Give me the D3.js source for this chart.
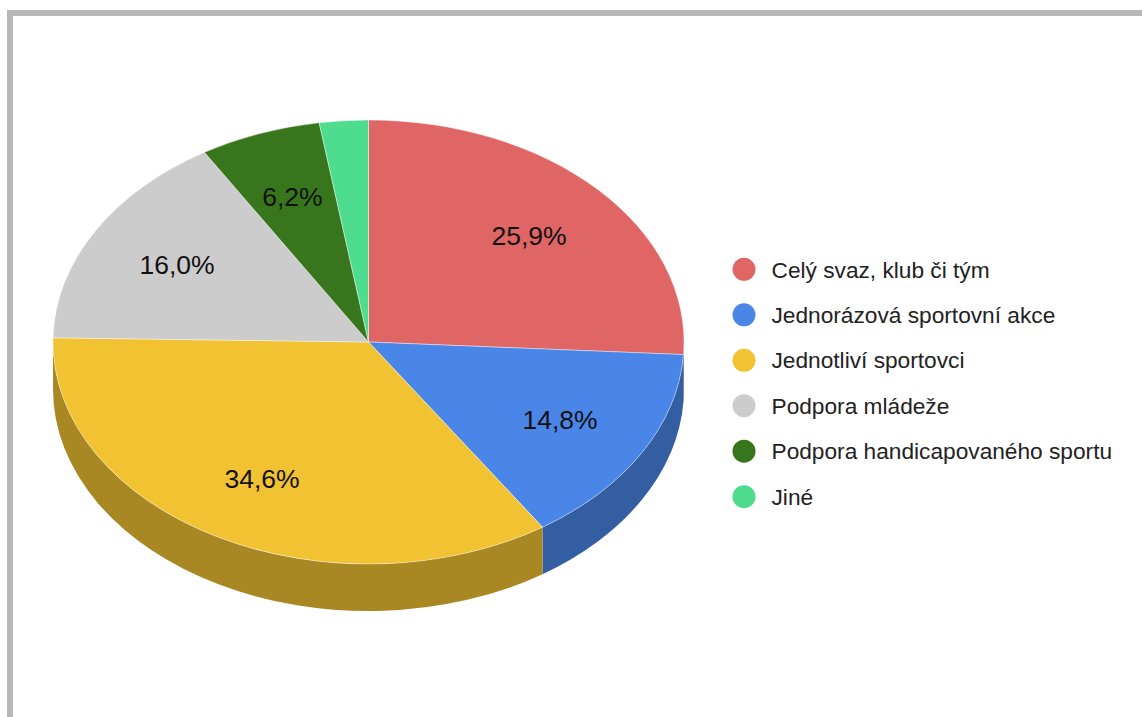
<!DOCTYPE html>
<html>
<head>
<meta charset="utf-8">
<script src="https://cdn.jsdelivr.net/npm/d3@7"></script>
<style>
  html, body { margin: 0; padding: 0; background: #fff; }
  svg { display: block; }
</style>
</head>
<body>
<svg id="chart" width="1142" height="717"></svg>
<script>
// Categories and their shares (percent)
const categories = [
  "Celý svaz, klub či tým",
  "Jednorázová sportovní akce",
  "Jednotliví sportovci",
  "Podpora mládeže",
  "Podpora handicapovaného sportu",
  "Jiné"
];
const shares = [25.9, 14.8, 34.6, 16.0, 6.2, 2.5];
const colors = ["#e06666", "#4a86e8", "#f1c232", "#cccccc", "#38761d", "#4edc8e"];
// Slices too thin to carry a label
const labelMin = 5;

const svg = d3.select("#chart");
const W = 1142, H = 717;

// Frame around the chart area (top and left edges visible)
svg.append("rect")
  .attr("x", 10).attr("y", 13)
  .attr("width", W + 40).attr("height", H + 40)
  .attr("fill", "none")
  .attr("stroke", "#b7b7b7")
  .attr("stroke-width", 6);

// Tilted pie geometry
const cx = 368.5, cy = 342, rx = 315.5, ry = 222, depth = 47;

const pie = d3.pie().sort(null).value(d => d);
const arcs = pie(shares);

const pt = (a, dy = 0) => [cx + rx * Math.sin(a), cy - ry * Math.cos(a) + dy];
const fmt = p => p[0].toFixed(2) + "," + p[1].toFixed(2);

// Side walls: only the front half (from 3 o'clock to 9 o'clock) is visible
const sides = svg.append("g");
arcs.forEach((d, i) => {
  const s = Math.max(d.startAngle, Math.PI / 2);
  const e = Math.min(d.endAngle, 3 * Math.PI / 2);
  if (s >= e) return;
  const large = (e - s) > Math.PI ? 1 : 0;
  const path = "M" + fmt(pt(s)) +
    "A" + rx + "," + ry + " 0 " + large + " 1 " + fmt(pt(e)) +
    "L" + fmt(pt(e, depth)) +
    "A" + rx + "," + ry + " 0 " + large + " 0 " + fmt(pt(s, depth)) + "Z";
  sides.append("path")
    .attr("d", path)
    .attr("fill", d3.color(colors[i]).darker(1).formatHex());
});

// Top face: a circular pie squashed vertically into an ellipse
const arc = d3.arc().innerRadius(0).outerRadius(rx);
svg.append("g")
  .attr("transform", `translate(${cx},${cy}) scale(1,${ry / rx})`)
  .selectAll("path")
  .data(arcs)
  .join("path")
  .attr("d", arc)
  .attr("fill", (d, i) => colors[i])
  .attr("stroke", "#ffffff")
  .attr("stroke-opacity", 0.5)
  .attr("stroke-width", 0.8)
  .attr("vector-effect", "non-scaling-stroke");

// Percentage labels placed at 70 % of the radius, in the middle of each slice
const fmtPct = v => v.toFixed(1).replace(".", ",") + "%";
svg.append("g")
  .selectAll("text")
  .data(arcs.filter(d => d.data >= labelMin))
  .join("text")
  .attr("x", d => cx + 0.7 * rx * Math.sin((d.startAngle + d.endAngle) / 2))
  .attr("y", d => cy - 0.7 * ry * Math.cos((d.startAngle + d.endAngle) / 2))
  .attr("dy", "0.36em")
  .attr("text-anchor", "middle")
  .attr("font-family", "'Liberation Sans', Arial, sans-serif")
  .attr("font-size", 26.5)
  .attr("fill", "#111")
  .text(d => fmtPct(d.data));

// Legend
const legendY = d3.scalePoint()
  .domain(categories)
  .range([269.3, 496.7]);

const legend = svg.append("g")
  .selectAll("g")
  .data(categories)
  .join("g")
  .attr("transform", d => `translate(744,${legendY(d)})`);

legend.append("circle")
  .attr("r", 11.5)
  .attr("fill", (d, i) => colors[i]);

legend.append("text")
  .attr("x", 27.5)
  .attr("y", 8.2)
  .attr("font-family", "'Liberation Sans', Arial, sans-serif")
  .attr("font-size", 22.7)
  .attr("fill", "#222")
  .text(d => d);
</script>
</body>
</html>
